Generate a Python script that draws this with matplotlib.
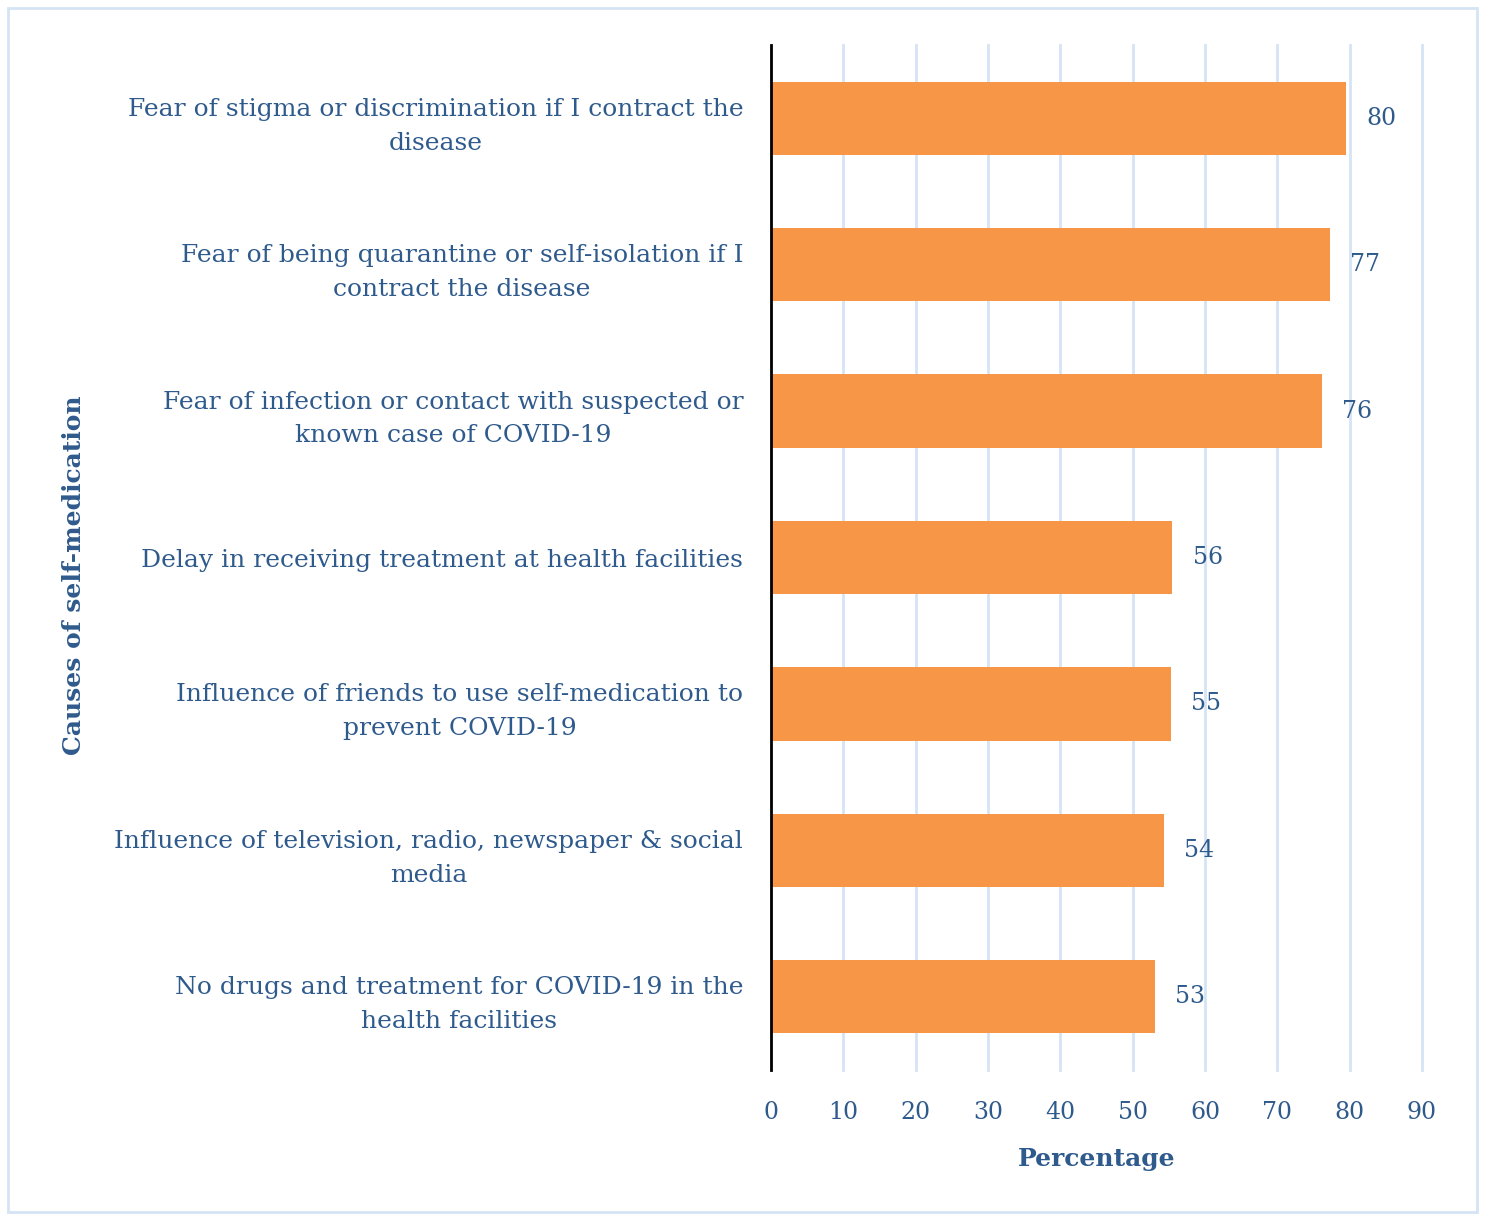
import matplotlib.pyplot as plt
from matplotlib.patches import Rectangle

causes = [
    "Fear of stigma or discrimination if I contract the\ndisease",
    "Fear of being quarantine or self-isolation if I\ncontract the disease",
    "Fear of infection or contact with suspected or\nknown case of COVID-19",
    "Delay in receiving treatment at health facilities",
    "Influence of friends to use self-medication to\nprevent COVID-19",
    "Influence of television, radio, newspaper & social\nmedia",
    "No drugs and treatment for COVID-19 in the\nhealth facilities",
]
values = [79.5, 77.3, 76.2, 55.5, 55.3, 54.3, 53.1]
labels = ["80", "77", "76", "56", "55", "54", "53"]
ticks = list(range(0, 100, 10))

text_col = "#2F5A8C"
bar_col = "#F79646"
grid_col = "#D5E3F4"

plt.rcParams['font.family'] = ['DejaVu Serif']

fig = plt.figure(figsize=(14.85, 12.15), dpi=100)
fig.patches.append(Rectangle((8 / 1485, 3 / 1215), 1469 / 1485, 1204 / 1215,
                             transform=fig.transFigure, fill=False,
                             edgecolor="#D5E3F4", lw=2))

ax = fig.add_axes([771 / 1485, 1 - 1070 / 1215, 651 / 1485, 1025 / 1215])
pos = list(range(len(causes)))
ax.barh(pos, values, height=0.5, color=bar_col, zorder=3)
for p, v, lab in zip(pos, values, labels):
    ax.text(v + 2.8, p, lab, va="center", ha="left", fontsize=17, color=text_col)

ax.set_ylim(len(causes) - 0.5, -0.5)
ax.set_xlim(0, 90)
ax.set_xticks(ticks)
ax.set_yticks(pos)
ax.set_yticklabels(causes, fontsize=18, color=text_col, ha="right", multialignment="center")
for lbl in ax.get_yticklabels():
    lbl.set_linespacing(1.6)
ax.tick_params(axis="y", length=0, pad=20)
ax.tick_params(axis="x", length=0, pad=22, labelsize=17, labelcolor=text_col)
ax.xaxis.grid(True, color=grid_col, lw=2)
for gl in ax.get_xgridlines():
    gl.set_clip_on(False)
ax.set_axisbelow(True)
for s in ["top", "right", "bottom"]:
    ax.spines[s].set_visible(False)
ax.spines["left"].set_color("black")
ax.spines["left"].set_linewidth(2)
ax.spines["left"].set_zorder(4)

ax.set_xlabel("Percentage", fontsize=18, fontweight="bold", color=text_col, labelpad=17)
ax.set_ylabel("Causes of self-medication", fontsize=18, fontweight="bold", color=text_col)
ax.yaxis.set_label_coords(-1.052, 0.483)

fig.savefig("out.png", dpi=100)
